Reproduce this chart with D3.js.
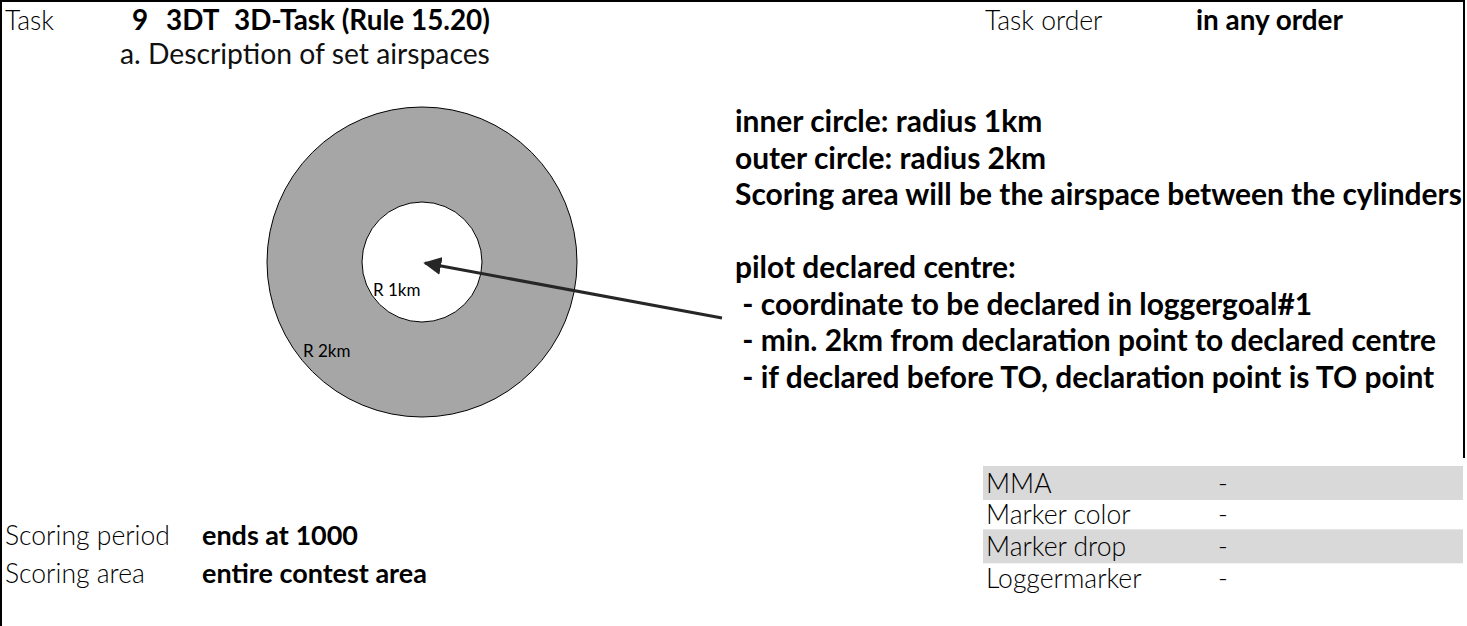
<!DOCTYPE html>
<html><head><meta charset="utf-8">
<script src="https://cdn.jsdelivr.net/npm/d3@7"></script>
<style>html,body{margin:0;padding:0;background:#fff;}svg{display:block;}</style>
</head><body>
<svg id="c" width="1467" height="626"></svg>
<script>
// ---- data ----
const taskNumber = "9";
const taskCode = "3DT";
const taskName = "3D-Task (Rule 15.20)";
const taskOrderLabel = "Task order";
const taskOrderValue = "in any order";
const subHeading = "a. Description of set airspaces";
const circleRadiiKm = [2, 1];
const circleLabels = ["R 2km", "R 1km"];
const descLines = [
  "inner circle: radius 1km",
  "outer circle: radius 2km",
  "Scoring area will be the airspace between the cylinders",
  "",
  "pilot declared centre:",
  " - coordinate to be declared in loggergoal#1",
  " - min. 2km from declaration point to declared centre",
  " - if declared before TO, declaration point is TO point"
];
const tableLabels = ["MMA", "Marker color", "Marker drop", "Loggermarker"];
const tableValues = ["-", "-", "-", "-"];
const bottomLabels = ["Scoring period", "Scoring area"];
const bottomValues = ["ends at 1000", "entire contest area"];

// ---- drawing ----
const svg = d3.select("#c");
const FONT = "Lato, Carlito, 'Open Sans', sans-serif";

function fitSize(str, weight, target) {
  const t = svg.append("text").attr("font-family", FONT).attr("font-weight", weight)
    .attr("font-size", 100).text(str);
  const w = t.node().getComputedTextLength();
  t.remove();
  return 100 * target / w;
}
const lightSize = fitSize("Scoring period", 300, 165);
const subSize = fitSize(subHeading, 400, 370);
const boldTop = fitSize(taskName, 700, 256);
const boldBottom = fitSize(bottomValues[1], 700, 225);
const boldDesc = fitSize(descLines[2], 700, 727);

// frame
svg.append("path")
  .attr("d", d3.line()([[1, 626], [1, 1], [1464, 1], [1464, 458]]))
  .attr("fill", "none").attr("stroke", "#000").attr("stroke-width", 2);

// header
const hdr = svg.append("g").attr("font-family", FONT).attr("fill", "#000");
hdr.append("text").attr("x", 5).attr("y", 30).attr("font-weight", 300).attr("font-size", lightSize).text("Task");
hdr.append("text").attr("x", 132).attr("y", 30).attr("font-weight", 700).attr("font-size", boldTop).text(taskNumber);
hdr.append("text").attr("x", 166).attr("y", 30).attr("font-weight", 700).attr("font-size", boldTop).text(taskCode);
hdr.append("text").attr("x", 234).attr("y", 30).attr("font-weight", 700).attr("font-size", boldTop).text(taskName);
hdr.append("text").attr("x", 985).attr("y", 30).attr("font-weight", 300).attr("font-size", lightSize).text(taskOrderLabel);
hdr.append("text").attr("x", 1196).attr("y", 30).attr("font-weight", 700).attr("font-size", boldTop).text(taskOrderValue);
hdr.append("text").attr("x", 120).attr("y", 64).attr("font-weight", 400).attr("font-size", subSize).attr("fill", "#111").text(subHeading);

// circles
const cx = 422, cy = 262;
const rScale = d3.scaleLinear().domain([0, 1, 2]).range([0, 60, 155]);
svg.append("g").selectAll("circle").data(circleRadiiKm).join("circle")
  .attr("cx", cx).attr("cy", cy).attr("r", d => rScale(d))
  .attr("fill", (d, i) => i === 0 ? "#a6a6a6" : "#fff")
  .attr("stroke", "#000").attr("stroke-width", 1);

// circle labels
const labelPos = [[303, 357], [373, 296]];
svg.append("g").selectAll("text").data(circleLabels).join("text")
  .attr("x", (d, i) => labelPos[i][0]).attr("y", (d, i) => labelPos[i][1])
  .attr("font-family", FONT).attr("font-size", 17).attr("fill", "#000").text(d => d);

// arrow
svg.append("defs").append("marker").attr("id", "ah")
  .attr("viewBox", "0 0 10 10").attr("refX", 9).attr("refY", 5)
  .attr("markerWidth", 6).attr("markerHeight", 6).attr("orient", "auto")
  .append("path").attr("d", "M0,0L10,5L0,10z").attr("fill", "#262626");
svg.append("line").attr("x1", 722).attr("y1", 318).attr("x2", 425).attr("y2", 263)
  .attr("stroke", "#262626").attr("stroke-width", 3).attr("marker-end", "url(#ah)");

// description block
const lineY = d3.scaleLinear().domain([0, descLines.length - 1]).range([132, 388]);
svg.append("g").selectAll("text").data(descLines).join("text")
  .attr("x", 735).attr("y", (d, i) => lineY(i))
  .attr("font-family", FONT).attr("font-weight", 700).attr("font-size", boldDesc)
  .attr("xml:space", "preserve").style("white-space", "pre")
  .text(d => d);

// table
const rowY = d3.scalePoint().domain(tableLabels).range([483, 578]);
const bandH = 34;
const tbl = svg.append("g");
tbl.selectAll("rect").data(tableLabels.filter((d, i) => i % 2 === 0)).join("rect")
  .attr("x", 983).attr("y", d => rowY(d) - bandH / 2).attr("width", 480).attr("height", bandH)
  .attr("fill", "#d9d9d9");
tbl.selectAll("text.lab").data(tableLabels).join("text").attr("class", "lab")
  .attr("x", 986).attr("y", d => rowY(d) + lightSize * 0.36)
  .attr("font-family", FONT).attr("font-weight", 300).attr("font-size", lightSize).text(d => d);
tbl.selectAll("text.val").data(tableValues).join("text").attr("class", "val")
  .attr("x", 1218).attr("y", (d, i) => rowY(tableLabels[i]) + lightSize * 0.36)
  .attr("font-family", FONT).attr("font-weight", 300).attr("font-size", lightSize).text(d => d);

// bottom rows
const botY = d3.scalePoint().domain(bottomLabels).range([545, 583]);
svg.append("g").selectAll("text").data(bottomLabels).join("text")
  .attr("x", 5).attr("y", d => botY(d))
  .attr("font-family", FONT).attr("font-weight", 300).attr("font-size", lightSize).text(d => d);
svg.append("g").selectAll("text").data(bottomValues).join("text")
  .attr("x", 202).attr("y", (d, i) => botY(bottomLabels[i]))
  .attr("font-family", FONT).attr("font-weight", 700).attr("font-size", boldBottom).text(d => d);
</script>
</body></html>
